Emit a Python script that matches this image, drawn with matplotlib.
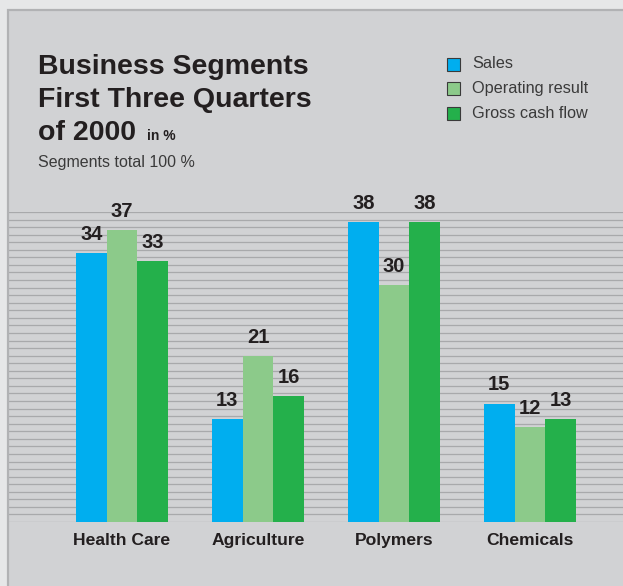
import matplotlib
matplotlib.use("Agg")
import matplotlib.pyplot as plt
from matplotlib.patches import Rectangle
import numpy as np

# data
segments = ["Health Care", "Agriculture", "Polymers", "Chemicals"]
series = ["Sales", "Operating result", "Gross cash flow"]
sales = [34, 13, 38, 15]
operating = [37, 21, 30, 12]
cash_flow = [33, 16, 38, 13]
colors = ["#00aeef", "#8cca8a", "#24b04b"]

W, H = 623, 586
fig = plt.figure(figsize=(W / 100, H / 100), dpi=100)
fig.patch.set_facecolor("#e6e7e8")

# grey panel with a darker top/left edge
fig.patches.append(Rectangle((8 / W, -0.05), 1.2, 1.05 - 10 / H, transform=fig.transFigure,
                             facecolor="#d1d2d4", edgecolor="#b1b2b4", lw=1.6, zorder=-5))

ax = fig.add_axes([9 / W, 64 / H, 614 / W, 310 / H])
ax.set_facecolor("none")
ytop = 310 / 7.9
ax.set_ylim(0, ytop)
ax.set_xlim(-(122 - 9) / 136, (623 - 122) / 136)
ax.set_yticks(np.linspace(0, ytop, 42))
ax.yaxis.grid(True, color="#a8a9ab", lw=0.9)
ax.set_axisbelow(True)
ax.tick_params(axis="y", length=0, labelleft=False)
for s in ax.spines.values():
    s.set_visible(False)

x = np.arange(len(segments))
w = 30.7 / 136
for i, (vals, c) in enumerate(zip([sales, operating, cash_flow], colors)):
    bars = ax.bar(x + (i - 1) * w, vals, width=w, color=c, zorder=3)
    for b, v in zip(bars, vals):
        ax.annotate(str(v), (b.get_x() + b.get_width() / 2, v), xytext=(0, 9.4),
                    textcoords="offset points", ha="center", va="baseline",
                    fontsize=14.5, fontweight="bold", color="#231f20",
                    family=["Liberation Sans", "DejaVu Sans"])

ax.set_xticks(x, segments)
ax.tick_params(axis="x", length=0, pad=8)
for lab in ax.get_xticklabels():
    lab.set_fontfamily(["Liberation Sans", "DejaVu Sans"])
    lab.set_fontsize(12.6)
    lab.set_fontweight("bold")
    lab.set_color("#231f20")

# title block
tfont = dict(family=["Liberation Sans", "DejaVu Sans"], color="#231f20", va="baseline")
fig.text(38 / W, 1 - 74 / H, "Business Segments", fontsize=20.5, fontweight="bold", **tfont)
fig.text(38 / W, 1 - 107 / H, "First Three Quarters", fontsize=20.5, fontweight="bold", **tfont)
fig.text(38 / W, 1 - 140 / H, "of 2000", fontsize=20.5, fontweight="bold", **tfont)
fig.text(147 / W, 1 - 140 / H, "in %", fontsize=10, fontweight="bold", **tfont)
fig.text(38 / W, 1 - 166.7 / H, "Segments total 100 %", fontsize=11.5,
         family=["Liberation Sans", "DejaVu Sans"], color="#3a3a3a", va="baseline")

# legend
for k, (name, c) in enumerate(zip(series, colors)):
    yc = 64 + k * 24.7
    fig.patches.append(Rectangle((447 / W, 1 - (yc + 6.5) / H), 13 / W, 13 / H,
                                 transform=fig.transFigure, facecolor=c,
                                 edgecolor="#3a3a3a", lw=0.8, zorder=2))
    fig.text(472 / W, 1 - yc / H, name, fontsize=11.7, color="#3a3a3a", va="center",
             family=["Liberation Sans", "DejaVu Sans"])

fig.savefig("out.png", dpi=100, facecolor=fig.get_facecolor())
